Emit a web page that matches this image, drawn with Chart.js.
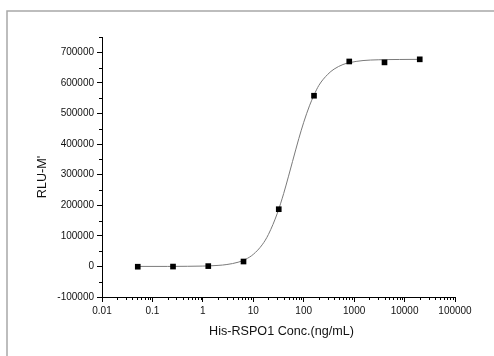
<!DOCTYPE html>
<html>
<head>
<meta charset="utf-8">
<script src="https://cdn.jsdelivr.net/npm/chart.js@4"></script>
<style>
html,body{margin:0;padding:0;background:#fff;}
#wrap{width:494px;height:356px;position:relative;}
</style>
</head>
<body>
<div id="wrap"><canvas id="c" width="494" height="356"></canvas></div>
<script>
// Measured points
const concValues = [0.0512, 0.256, 1.28, 6.4, 32, 160, 800, 4000, 20000];
const rluValues = [-1000, -500, 1000, 16000, 187000, 558000, 670000, 667000, 677000];

// Fitted curve
const curveConc = [0.0512, 0.2, 0.5, 1, 2, 3, 5, 7, 10, 15, 20, 30, 40, 50, 60, 80, 100, 130, 160, 200, 300, 400, 600, 800, 1500, 3000, 8000, 20000];
const curveRlu = [0, 0, 400, 1100, 3300, 6200, 13700, 23000, 39400, 70600, 104700, 174000, 238000, 295000, 343000, 418000, 471000, 525000, 560000, 592000, 628000, 645000, 660000, 666000, 673000, 675500, 676500, 677000];

// Tick labels
const xTicks = [0.01, 0.1, 1, 10, 100, 1000, 10000, 100000];
const xTickLabels = ['0.01', '0.1', '1', '10', '100', '1000', '10000', '100000'];
const yTicks = [-100000, 0, 100000, 200000, 300000, 400000, 500000, 600000, 700000];
const yTickLabels = ['-100000', '0', '100000', '200000', '300000', '400000', '500000', '600000', '700000'];
const yMinorTicks = [-50000, 50000, 150000, 250000, 350000, 450000, 550000, 650000, 750000];

const xTitle = 'His-RSPO1 Conc.(ng/mL)';
const yTitle = "RLU-M'";

const FONT = "'Liberation Sans', Arial, sans-serif";

const extras = {
  id: 'extras',
  beforeDraw(chart) {
    const ctx = chart.ctx;
    ctx.save();
    ctx.strokeStyle = '#a8a8a8';
    ctx.lineWidth = 1.5;
    ctx.beginPath();
    ctx.moveTo(7, 356);
    ctx.lineTo(7, 11);
    ctx.lineTo(494, 11);
    ctx.stroke();
    ctx.restore();
  },
  afterDraw(chart) {
    const ctx = chart.ctx;
    const xs = chart.scales.x, ys = chart.scales.y;
    const a = chart.chartArea;
    ctx.save();
    ctx.strokeStyle = '#000';
    ctx.lineWidth = 1;
    ctx.beginPath();
    for (const v of yMinorTicks) {
      const p = Math.round(ys.getPixelForValue(v)) + 0.5;
      ctx.moveTo(a.left - 3, p);
      ctx.lineTo(a.left, p);
    }
    for (let d = 0; d < xTicks.length - 1; d++) {
      for (let m = 2; m <= 9; m++) {
        const p = Math.round(xs.getPixelForValue(xTicks[d] * m)) + 0.5;
        ctx.moveTo(p, a.bottom);
        ctx.lineTo(p, a.bottom + 3);
      }
    }
    ctx.stroke();
    ctx.fillStyle = '#111';
    ctx.font = '12.6px ' + FONT;
    ctx.textAlign = 'center';
    ctx.textBaseline = 'alphabetic';
    ctx.fillText(xTitle, (a.left + a.right) / 2 + 3, 335);
    ctx.translate(46, (a.top + a.bottom) / 2 + 10);
    ctx.rotate(-Math.PI / 2);
    ctx.fillText(yTitle, 0, 0);
    ctx.restore();
  }
};

new Chart(document.getElementById('c'), {
  type: 'scatter',
  data: {
    datasets: [
      {
        label: 'data',
        data: concValues.map((x, i) => ({x, y: rluValues[i]})),
        pointStyle: 'rect',
        pointRadius: 4,
        pointHoverRadius: 4,
        backgroundColor: '#000',
        borderColor: '#000',
        borderWidth: 0,
        showLine: false
      },
      {
        label: 'fit',
        type: 'line',
        data: curveConc.map((x, i) => ({x, y: curveRlu[i]})),
        borderColor: '#7a7a7a',
        borderWidth: 1,
        pointRadius: 0,
        fill: false,
        cubicInterpolationMode: 'monotone'
      }
    ]
  },
  options: {
    responsive: false,
    animation: false,
    events: [],
    layout: {padding: {left: 0, top: 37, right: 39, bottom: 0}},
    plugins: {legend: {display: false}, tooltip: {enabled: false}, title: {display: false}},
    scales: {
      x: {
        type: 'logarithmic',
        min: 0.01,
        max: 100000,
        afterBuildTicks(s) { s.ticks = xTicks.map(v => ({value: v, major: true})); },
        afterFit(s) { s.height = 59; },
        grid: {display: true, drawOnChartArea: false, drawTicks: true, tickLength: 5, color: '#000'},
        border: {display: true, color: '#000', width: 1},
        ticks: {
          autoSkip: false, maxRotation: 0, padding: 3, color: '#111',
          font: {family: FONT, size: 10},
          callback: (v, i) => xTickLabels[i]
        }
      },
      y: {
        type: 'linear',
        min: -100000,
        max: 750000,
        afterBuildTicks(s) { s.ticks = yTicks.map(v => ({value: v})); },
        afterFit(s) { s.width = 102; },
        grid: {display: true, drawOnChartArea: false, drawTicks: true, tickLength: 5, color: '#000'},
        border: {display: true, color: '#000', width: 1},
        ticks: {
          autoSkip: false, padding: 3, color: '#111',
          font: {family: FONT, size: 10},
          callback: (v, i) => yTickLabels[i]
        }
      }
    }
  },
  plugins: [extras]
});
</script>
</body>
</html>
